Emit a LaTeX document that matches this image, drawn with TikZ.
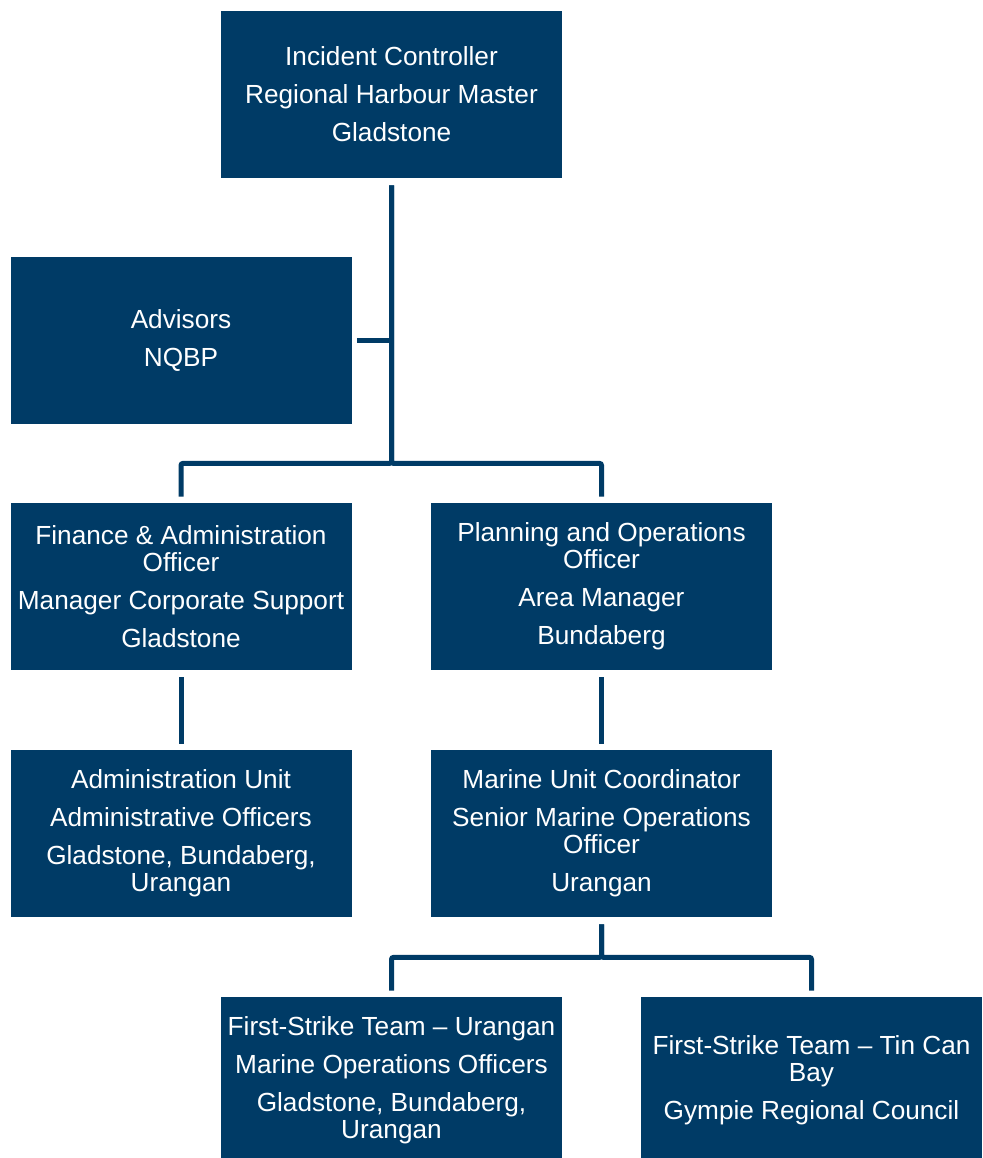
\documentclass[tikz,border=0pt]{standalone}
\usepackage{fontspec}
\setmainfont{Liberation Sans}
\usepackage{tikz}
\usetikzlibrary{positioning}
\definecolor{harbourblue}{RGB}{0,59,102}

\tikzset{
  role/.style={fill=harbourblue, text=white, minimum width=170.5pt, minimum height=83.5pt,
    inner sep=0pt, align=center, font=\fontsize{13.1}{13.5}\selectfont},
  link/.style={draw=harbourblue, line width=2.5pt, rounded corners=1pt}
}

\begin{document}
\begin{tikzpicture}[x=0.5pt,y=-0.5pt]
    \useasboundingbox (0,0) rectangle (982,1158);

    % Incident controller
    \node[role] (ic) at (391.5,94.5) {Incident Controller\\[5.5pt]Regional Harbour Master\\[5.5pt]Gladstone};

    % Advisors
    \node[role] (adv) at (181,340.5) {Advisors\\[5.5pt]NQBP};

    % Officers
    \node[role] (fin) at (181,586.5) {Finance \& Administration\\Officer\\[5.5pt]Manager Corporate Support\\[5.5pt]Gladstone};
    \node[role] (plan) at (601.5,586.5) {Planning and Operations\\Officer\\[5.5pt]Area Manager\\[5.5pt]Bundaberg};

    % Units
    \node[role] (admu) at (181,833.5) {Administration Unit\\[5.5pt]Administrative Officers\\[5.5pt]Gladstone, Bundaberg,\\Urangan};
    \node[role] (marine) at (601.5,833.5) {Marine Unit Coordinator\\[5.5pt]Senior Marine Operations\\Officer\\[5.5pt]Urangan};

    % First-strike teams
    \node[role] (fsu) at (391.5,1080.5) {First-Strike Team -- Urangan\\[5.5pt]Marine Operations Officers\\[5.5pt]Gladstone, Bundaberg,\\Urangan};
    \node[role] (fstcb) at (811.5,1080.5) {First-Strike Team -- Tin Can\\Bay\\[5.5pt]Gympie Regional Council};

    % Connectors
    \draw[link, shorten <=3.5pt, shorten >=3pt] (ic.south) -- ++(0,285) -| (fin.north);
    \draw[link, shorten <=3.5pt, shorten >=3pt] (ic.south) -- ++(0,285) -| (plan.north);
    \draw[link, shorten <=2.5pt] (adv.east) -- (adv.east -| ic.south);
    \draw[link, shorten <=3.5pt, shorten >=3pt] (fin) -- (admu);
    \draw[link, shorten <=3.5pt, shorten >=3pt] (plan) -- (marine);
    \draw[link, shorten <=3.5pt, shorten >=3pt] (marine.south) -- ++(0,40) -| (fsu.north);
    \draw[link, shorten <=3.5pt, shorten >=3pt] (marine.south) -- ++(0,40) -| (fstcb.north);
\end{tikzpicture}
\end{document}
